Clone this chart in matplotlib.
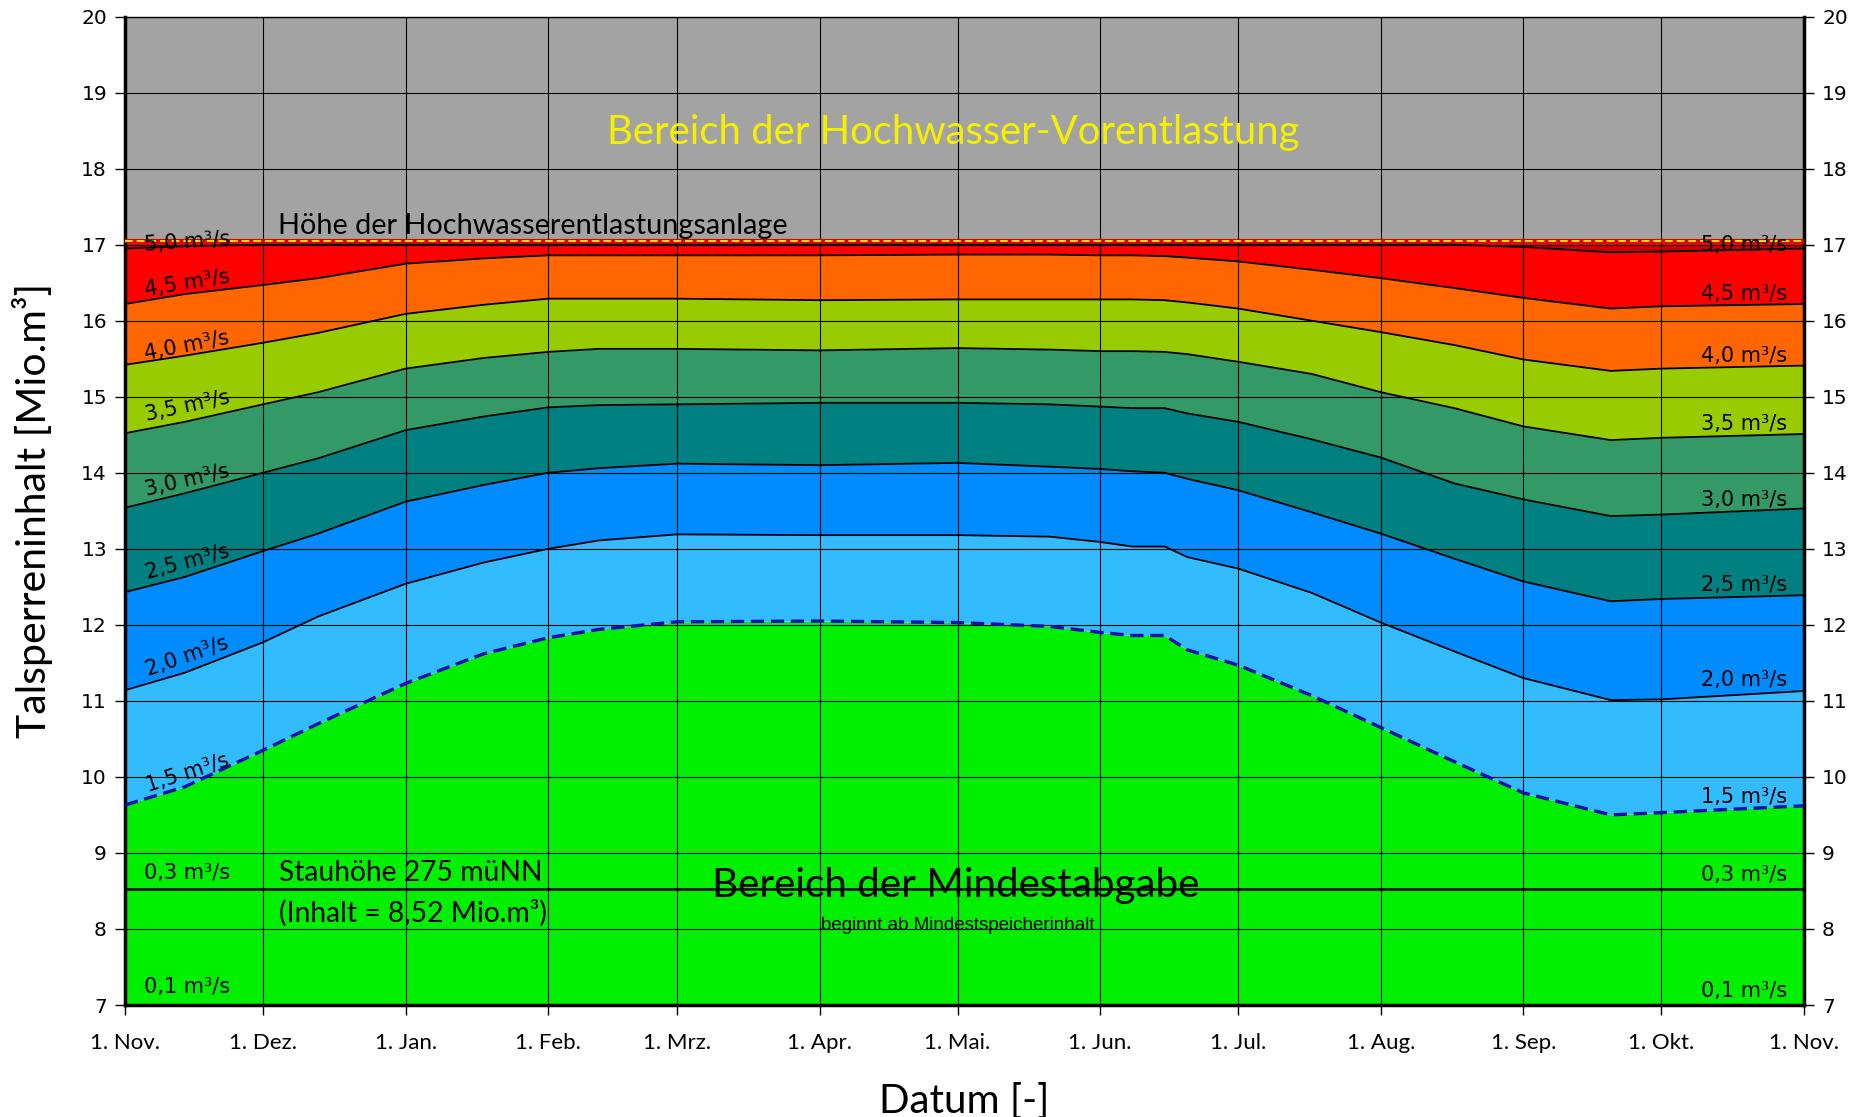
import matplotlib
matplotlib.use("Agg")
import matplotlib.pyplot as plt
import numpy as np

# ---------------- data ----------------
X_DAYS = [0, 13, 30, 42, 61, 78, 92, 103, 120, 151, 181, 201, 212, 219, 226, 231,
          242, 258, 273, 289, 304, 323, 334, 365]

Q15 = [9.63, 9.87, 10.35, 10.70, 11.23, 11.62, 11.83, 11.94, 12.04, 12.05, 12.03, 11.98,
       11.90, 11.86, 11.86, 11.67, 11.47, 11.07, 10.65, 10.20, 9.79, 9.50, 9.53, 9.62]
Q20 = [11.14, 11.37, 11.77, 12.11, 12.54, 12.82, 13.00, 13.11, 13.19, 13.18, 13.18, 13.16,
       13.09, 13.03, 13.03, 12.89, 12.74, 12.42, 12.03, 11.65, 11.30, 11.01, 11.02, 11.13]
Q25 = [12.43, 12.63, 12.97, 13.20, 13.62, 13.84, 14.00, 14.06, 14.12, 14.10, 14.13, 14.08,
       14.05, 14.02, 14.00, 13.92, 13.77, 13.48, 13.20, 12.87, 12.57, 12.31, 12.34, 12.39]
Q30 = [13.54, 13.73, 14.00, 14.19, 14.56, 14.74, 14.86, 14.89, 14.90, 14.92, 14.92, 14.90,
       14.87, 14.85, 14.85, 14.78, 14.67, 14.44, 14.20, 13.86, 13.65, 13.43, 13.45, 13.53]
Q35 = [14.52, 14.67, 14.90, 15.06, 15.37, 15.51, 15.59, 15.63, 15.63, 15.61, 15.64, 15.62,
       15.60, 15.60, 15.59, 15.56, 15.46, 15.30, 15.06, 14.85, 14.61, 14.43, 14.46, 14.51]
Q40 = [15.42, 15.54, 15.71, 15.84, 16.09, 16.21, 16.29, 16.29, 16.29, 16.27, 16.28, 16.28,
       16.28, 16.28, 16.27, 16.24, 16.16, 16.00, 15.85, 15.68, 15.49, 15.34, 15.37, 15.41]
Q45 = [16.22, 16.35, 16.47, 16.56, 16.75, 16.82, 16.86, 16.86, 16.86, 16.86, 16.87, 16.87,
       16.86, 16.86, 16.85, 16.83, 16.78, 16.67, 16.56, 16.43, 16.30, 16.16, 16.19, 16.22]
Q50 = [16.95, 16.98, 17.00, 17.00, 17.00, 17.00, 17.00, 17.00, 17.00, 17.00, 17.00, 17.00,
       17.00, 17.00, 17.00, 17.00, 17.00, 17.00, 17.00, 17.00, 16.97, 16.90, 16.91, 16.95]

HW_LEVEL = 17.05          # Höhe der Hochwasserentlastungsanlage
CREST = 17.0
STAU_LEVEL = 8.52         # Inhalt bei Stauhöhe 275 müNN
Y_MIN, Y_MAX = 7, 20

MONTH_DAYS = [0, 30, 61, 92, 120, 151, 181, 212, 242, 273, 304, 334, 365]
MONTH_LABELS = ["1. Nov.", "1. Dez.", "1. Jan.", "1. Feb.", "1. Mrz.", "1. Apr.", "1. Mai.",
                "1. Jun.", "1. Jul.", "1. Aug.", "1. Sep.", "1. Okt.", "1. Nov."]
Y_TICKS = list(range(7, 21))

FLOW_LABELS = ["5,0 m³/s", "4,5 m³/s", "4,0 m³/s", "3,5 m³/s", "3,0 m³/s",
               "2,5 m³/s", "2,0 m³/s", "1,5 m³/s", "0,3 m³/s", "0,1 m³/s"]
LEFT_LABEL_Y = [17.04, 16.49, 15.67, 14.87, 13.90, 12.82, 11.59, 10.05, 8.74, 7.24]
RIGHT_LABEL_Y = [17.00, 16.35, 15.54, 14.64, 13.64, 12.52, 11.27, 9.74, 8.71, 7.19]

# ---------------- figure ----------------
W, H = 1856, 1117
fig = plt.figure(figsize=(W / 100, H / 100), dpi=100)
ax = fig.add_axes([125 / W, 1 - 1005 / H, (1804 - 125) / W, (1005 - 16.6) / H])

x = np.array(X_DAYS, dtype=float)
q15, q20, q25, q30, q35, q40, q45, q50 = map(np.array, [Q15, Q20, Q25, Q30, Q35, Q40, Q45, Q50])

GREY = "#a3a3a3"
ax.fill_between(x, Y_MIN, q15, color="#00f000", lw=0, zorder=1)
ax.fill_between(x, q15, q20, color="#33bbff", lw=0, zorder=1)
ax.fill_between(x, q20, q25, color="#008cff", lw=0, zorder=1)
ax.fill_between(x, q25, q30, color="#008080", lw=0, zorder=1)
ax.fill_between(x, q30, q35, color="#339966", lw=0, zorder=1)
ax.fill_between(x, q35, q40, color="#99cc00", lw=0, zorder=1)
ax.fill_between(x, q40, q45, color="#ff6600", lw=0, zorder=1)
ax.fill_between(x, q45, HW_LEVEL, color="#ff0000", lw=0, zorder=1)
ax.fill_between(x, q50, CREST, color="#cc0000", lw=0, zorder=1)
ax.fill_between(x, HW_LEVEL, Y_MAX, color=GREY, lw=0, zorder=1)

for q in [q20, q25, q30, q35, q40, q45, q50]:
    ax.plot(x, q, color="black", lw=1.3, zorder=3)
ax.plot(x, q15, color="#1010b0", lw=2.4, ls=(0, (4, 2)), zorder=3)

ax.axhline(STAU_LEVEL, color="black", lw=1.8, zorder=3)
ax.axhline(HW_LEVEL, color="#e00000", lw=3.0, zorder=3)
ax.axhline(HW_LEVEL, color="#f0e000", lw=1.4, ls=(0, (4, 2)), zorder=3)

ax.set_xlim(0, 365)
ax.set_ylim(Y_MIN, Y_MAX)
ax.set_xticks(MONTH_DAYS)
ax.set_xticklabels(MONTH_LABELS, family="Lato", fontsize=16)
ax.set_yticks(Y_TICKS)
ax.tick_params(axis="y", which="both", left=True, right=True, labelleft=True, labelright=True,
               direction="out", length=7, width=1, labelsize=14.5, pad=6)
ax.tick_params(axis="x", direction="out", length=7, width=1, pad=13)
ax.grid(True, color="black", lw=0.8, zorder=2.5)
ax.set_axisbelow(False)

for side in ["left", "bottom", "right"]:
    ax.spines[side].set_linewidth(2.5)
ax.spines["top"].set_linewidth(1.0)

ax.set_ylabel("Talsperreninhalt [Mio.m³]", family="Lato", fontsize=29.5, labelpad=20)
ax.set_xlabel("Datum [-]", family="Lato", fontsize=29, labelpad=22)

# ---------------- annotations ----------------
ax.text(180, 18.48, "Bereich der Hochwasser-Vorentlastung", color="#f5f000",
        family="Lato", fontsize=28.8, ha="center", va="center", zorder=6)
ax.text(33.3, 17.25, "Höhe der Hochwasserentlastungsanlage", color="black",
        family="Lato", fontsize=20.8, ha="left", va="center", zorder=6)
ax.text(180.5, 8.57, "Bereich der Mindestabgabe", color="black",
        family="Lato", fontsize=29.1, ha="center", va="center", zorder=6)
ax.text(181, 8.04, "beginnt ab Mindestspeicherinhalt", color="black",
        family="Liberation Sans", fontsize=13.5, ha="center", va="center", zorder=6)
ax.text(33.5, 8.74, "Stauhöhe 275 müNN", color="black",
        family="Lato", fontsize=20.3, ha="left", va="center", zorder=6)
ax.text(33.5, 8.21, "(Inhalt = 8,52 Mio.m³)", color="black",
        family="Lato", fontsize=20.3, ha="left", va="center", zorder=6)

LEFT_ROT = [4, 9, 11, 12, 13, 15, 19, 18, 0, 0]
for lab, yy, rot in zip(FLOW_LABELS, LEFT_LABEL_Y, LEFT_ROT):
    ax.text(13.5, yy, lab, fontsize=15, ha="center", va="center", rotation=rot,
            rotation_mode="anchor", zorder=6, family="DejaVu Sans")
for lab, yy in zip(FLOW_LABELS, RIGHT_LABEL_Y):
    ax.text(361.3, yy, lab, fontsize=15, ha="right", va="center", zorder=6,
            family="DejaVu Sans")

fig.savefig("out.png", dpi=100)
